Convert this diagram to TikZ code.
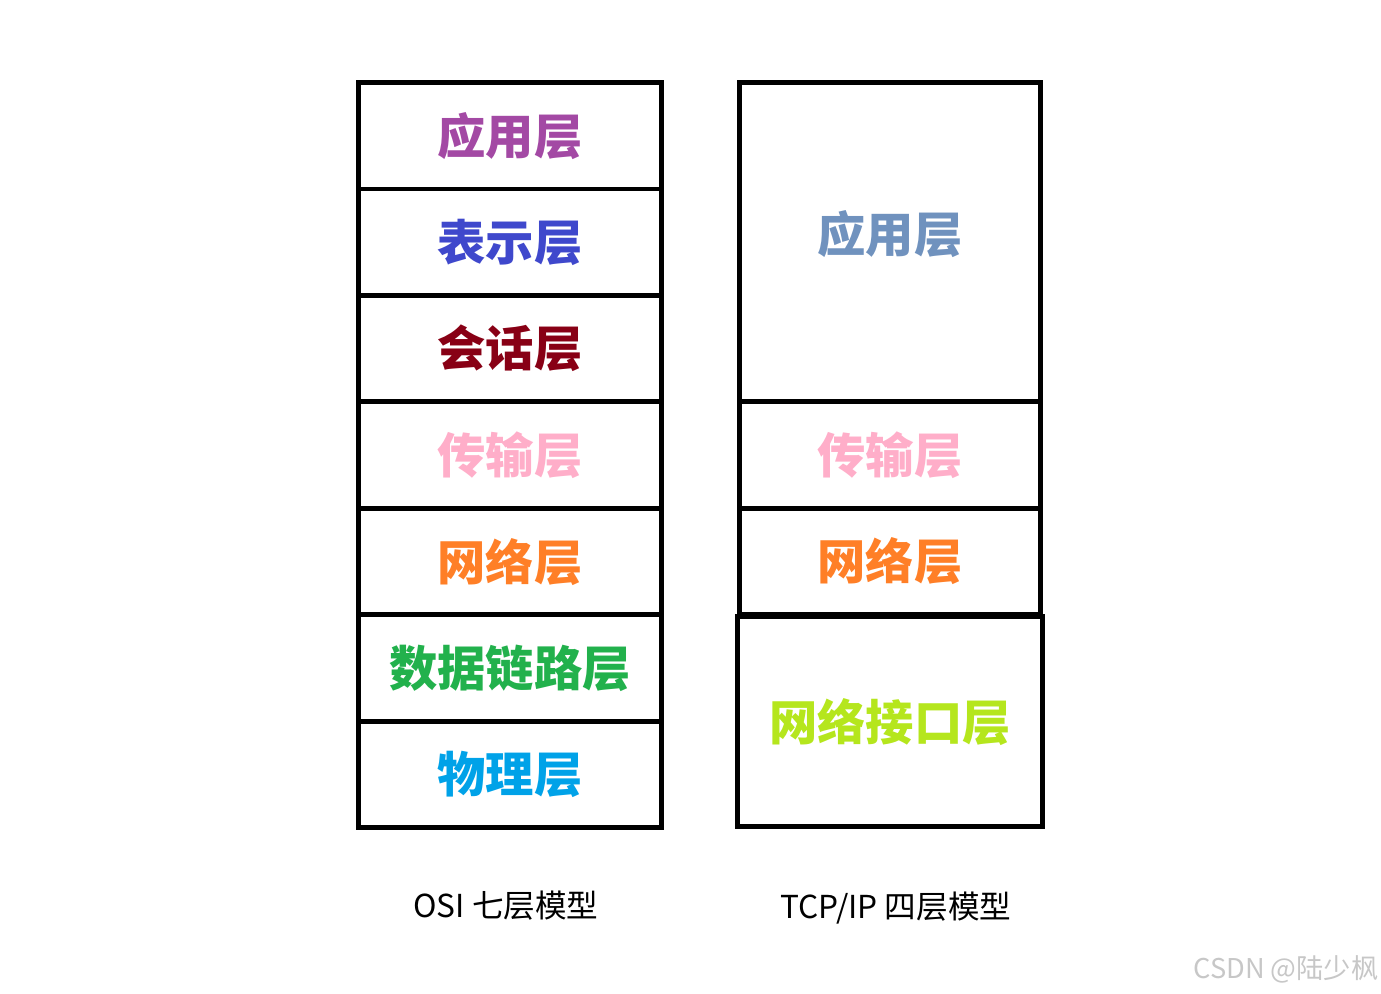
\documentclass[tikz,border=0pt]{standalone}
\usepackage{fontspec}
\setmainfont{Noto Sans CJK SC}
\usetikzlibrary{positioning}
\definecolor{appc}{HTML}{A349A4}
\definecolor{prsc}{HTML}{3F48CC}
\definecolor{sesc}{HTML}{880015}
\definecolor{trnc}{HTML}{FFAEC9}
\definecolor{netc}{HTML}{FF7F27}
\definecolor{lnkc}{HTML}{22B14C}
\definecolor{phyc}{HTML}{00A2E8}
\definecolor{tappc}{HTML}{7092BE}
\definecolor{ifc}{HTML}{B5E61D}
\tikzset{
  lay/.style={rectangle,draw,line width=2.8pt,inner sep=0pt,outer sep=0pt,
              minimum width=6.06cm,minimum height=2.13cm,
              font=\fontsize{27.5}{27.5}\selectfont\bfseries},
  tlay/.style={lay,minimum width=6.02cm},
  mcap/.style={font=\fontsize{18}{18}\selectfont},
  every picture/.style={line cap=rect,line join=miter}}
\begin{document}
\begin{tikzpicture}[x=0.02cm,y=-0.02cm]
  \useasboundingbox (0,0) rectangle (1381,993);
  % OSI
  \node[lay,text=appc] (o1) at (510,135.75){应用层};
  \node[lay,text=prsc,below=0pt of o1] (o2){表示层};
  \node[lay,text=sesc,below=0pt of o2] (o3){会话层};
  \node[lay,text=trnc,below=0pt of o3] (o4){传输层};
  \node[lay,text=netc,below=0pt of o4] (o5){网络层};
  \node[lay,text=lnkc,below=0pt of o5] (o6){数据链路层};
  \node[lay,text=phyc,below=0pt of o6] (o7){物理层};
  \node[mcap] (ocap) at (506,906){OSI 七层模型};
  % TCP/IP
  \node[tlay,text=tappc,minimum height=6.38cm,text depth=0.4cm] (t1) at (890,242){应用层};
  \node[tlay,text=trnc,minimum height=2.14cm,below=0pt of t1] (t2){传输层};
  \node[tlay,text=netc,minimum height=2.12cm,below=0pt of t2] (t3){网络层};
  \node[tlay,text=ifc,minimum width=6.09cm,minimum height=4.19cm,
        below=0.05cm of t3] (t4){网络接口层};
  \node[mcap] (tcap) at (896,908){TCP/IP 四层模型};
  \node[font=\fontsize{15.5}{15.5}\selectfont,text=black!22] (wm) at (1286,969){CSDN @陆少枫};
\end{tikzpicture}
\end{document}
